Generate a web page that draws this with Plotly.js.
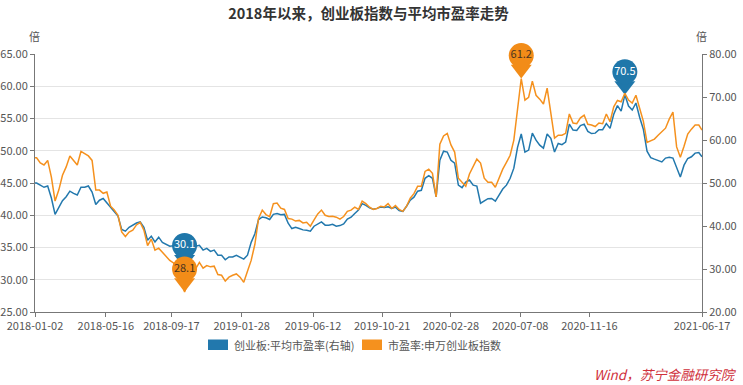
<!DOCTYPE html>
<html><head><meta charset="utf-8">
<script src="https://cdn.plot.ly/plotly-3.0.1.min.js"></script>
<style>html,body{margin:0;padding:0;background:#fff}#chart{width:743px;height:385px}</style>
</head><body><div id="chart"></div>
<script>
const dates = ['2018-01-02',
'2018-01-05','2018-01-12','2018-01-19','2018-01-26','2018-02-02','2018-02-09','2018-02-16','2018-02-23',
'2018-03-02','2018-03-09','2018-03-16','2018-03-23','2018-03-30','2018-04-06','2018-04-13','2018-04-20','2018-04-27',
'2018-05-04','2018-05-11','2018-05-18','2018-05-25','2018-06-01','2018-06-08','2018-06-15','2018-06-22','2018-06-29',
'2018-07-06','2018-07-13','2018-07-20','2018-07-27','2018-08-03','2018-08-10','2018-08-17','2018-08-24','2018-08-31',
'2018-09-07','2018-09-14','2018-09-21','2018-09-28','2018-10-05','2018-10-12','2018-10-19','2018-10-26',
'2018-11-02','2018-11-09','2018-11-16','2018-11-23','2018-11-30','2018-12-07','2018-12-14','2018-12-21','2018-12-28',
'2019-01-04','2019-01-11','2019-01-18','2019-01-25','2019-02-01','2019-02-08','2019-02-15','2019-02-22',
'2019-03-01','2019-03-08','2019-03-15','2019-03-22','2019-03-29','2019-04-05','2019-04-12','2019-04-19','2019-04-26',
'2019-05-03','2019-05-10','2019-05-17','2019-05-24','2019-05-31','2019-06-07','2019-06-14','2019-06-21','2019-06-28',
'2019-07-05','2019-07-12','2019-07-19','2019-07-26','2019-08-02','2019-08-09','2019-08-16','2019-08-23','2019-08-30',
'2019-09-06','2019-09-13','2019-09-20','2019-09-27','2019-10-04','2019-10-11','2019-10-18','2019-10-25',
'2019-11-01','2019-11-08','2019-11-15','2019-11-22','2019-11-29','2019-12-06','2019-12-13','2019-12-20','2019-12-27',
'2020-01-03','2020-01-10','2020-01-17','2020-01-24','2020-01-31','2020-02-07','2020-02-14','2020-02-21','2020-02-28',
'2020-03-06','2020-03-13','2020-03-20','2020-03-27','2020-04-03','2020-04-10','2020-04-17','2020-04-24',
'2020-05-01','2020-05-08','2020-05-15','2020-05-22','2020-05-29','2020-06-05','2020-06-12','2020-06-19','2020-06-26',
'2020-07-03','2020-07-10','2020-07-17','2020-07-24','2020-07-31','2020-08-07','2020-08-14','2020-08-21','2020-08-28',
'2020-09-04','2020-09-11','2020-09-18','2020-09-25','2020-10-02','2020-10-09','2020-10-16','2020-10-23','2020-10-30',
'2020-11-06','2020-11-13','2020-11-20','2020-11-27','2020-12-04','2020-12-11','2020-12-18','2020-12-25',
'2021-01-01','2021-01-08','2021-01-15','2021-01-22','2021-01-29','2021-02-05','2021-02-12','2021-02-19','2021-02-26',
'2021-03-05','2021-03-12','2021-03-19','2021-03-26','2021-04-02','2021-04-09','2021-04-16','2021-04-23','2021-04-30',
'2021-05-07','2021-05-14','2021-05-21','2021-05-28','2021-06-04','2021-06-11','2021-06-17'];

// 创业板:平均市盈率 (right axis)
const peAvg = [50.0,
50.0,49.5,49.0,49.3,46.5,42.7,44.4,45.9,46.8,48.1,47.6,47.2,49.0,49.0,49.3,47.9,45.0,46.0,46.4,45.4,
44.3,43.4,42.3,39.2,38.8,39.7,40.2,40.7,40.95,39.7,36.7,37.6,36.3,37.4,36.2,35.8,35.3,35.4,34.4,33.2,
30.1,33.0,34.4,35.3,35.5,34.4,34.8,34.1,34.4,33.2,33.2,32.15,32.8,32.8,33.2,32.8,32.3,33.2,36.2,38.2,
41.5,42.1,41.9,41.5,42.7,42.9,42.6,42.7,40.65,39.4,39.7,39.4,39.1,39.0,38.8,39.95,40.5,40.95,40.2,40.2,
40.4,39.95,40.1,40.5,41.6,42.05,42.9,43.7,45.2,44.8,44.2,43.9,44.1,44.4,44.3,44.45,44.1,44.4,43.6,43.4,
44.6,46.0,46.7,48.1,48.3,51.1,51.7,51.1,46.8,55.3,57.4,57.2,55.3,54.6,49.5,48.9,50.2,50.7,49.5,49.3,
45.3,45.8,46.35,46.4,45.8,47.2,48.6,49.5,51.1,53.45,58.3,61.4,57.2,57.65,61.6,59.97,58.8,58.1,61.4,60.4,
57.2,59.2,58.9,59.5,63.7,62.3,62.2,63.35,63.7,62.0,61.5,61.6,62.4,62.4,63.8,62.7,66.0,68.0,66.7,70.5,
67.9,66.96,68.6,65.3,62.5,57.4,55.9,55.55,55.3,54.9,55.8,56.0,55.8,53.4,51.4,54.15,55.7,56.1,56.95,57.1,
56.1];

// 市盈率:申万创业板指数 (left axis)
const peIndex = [48.9,
48.9,48.1,47.8,48.5,45.9,42.2,43.9,46.2,47.5,49.2,48.5,47.8,49.9,49.5,49.2,48.5,43.9,43.9,43.4,43.6,
41.4,40.8,40.0,37.4,36.7,37.4,37.7,38.5,38.9,37.7,35.3,36.3,34.6,34.9,34.3,33.6,33.0,32.6,31.5,30.2,
28.1,29.6,30.7,31.8,32.7,31.8,32.2,32.0,32.1,30.8,30.7,29.8,30.4,30.7,30.9,30.4,29.6,31.3,33.0,35.5,
39.5,40.8,40.1,39.8,41.8,41.9,41.1,40.9,39.5,39.4,39.1,39.2,38.8,38.9,38.3,39.3,40.2,40.8,40.0,39.8,
39.85,39.7,39.4,39.8,40.6,40.8,41.25,40.9,42.2,41.8,41.25,40.9,41.05,41.4,41.3,41.8,41.05,41.5,40.9,40.6,
41.4,42.65,43.35,44.5,44.5,46.8,47.15,46.5,42.85,51.0,52.3,52.7,50.9,49.8,45.75,45.1,44.5,46.4,47.6,48.7,
48.1,45.75,45.1,45.1,44.35,45.9,47.15,48.2,49.3,51.65,56.6,61.2,57.85,58.3,60.8,58.6,58.0,57.25,59.7,55.8,
51.96,52.4,52.4,52.7,55.7,54.3,54.2,55.1,55.5,54.1,54.0,53.75,54.3,54.2,55.7,54.5,56.8,57.8,57.6,58.9,
57.85,57.4,58.6,56.6,54.6,51.3,51.5,51.8,52.4,52.9,53.5,54.9,56.0,50.6,49.0,50.7,52.6,53.35,53.98,53.98,
53.2];

const tickDates = ['2018-01-02','2018-05-16','2018-09-17','2019-01-28','2019-06-12','2019-10-21','2020-02-28','2020-07-08','2020-11-16','2021-06-17'];
const seriesNames = ['创业板:平均市盈率(右轴)','市盈率:申万创业板指数'];
const titleText = '2018年以来，创业板指数与平均市盈率走势';
const sourceText = 'Wind，苏宁金融研究院';

const BLUE = '#2278ad', ORANGE = '#f5911e';
const PIN_BLUE = '#1f77aa', PIN_ORANGE = '#f28c18';
const FONT = '"Noto Sans CJK SC", "Microsoft YaHei", sans-serif';

// plot geometry (pixels)
const plotL = 35, plotW = 667, plotB = 312, plotH = 258;
const leftRange = [25, 65], rightRange = [20, 80];
const perPxLeft = (leftRange[1] - leftRange[0]) / plotH, perPxRight = (rightRange[1] - rightRange[0]) / plotH;

// 'y' = right axis (blue, drawn first), 'y2' = left axis (orange, overlaying -> drawn on top)
const traces = [
  {x: dates, y: peAvg, yaxis: 'y', type: 'scatter', mode: 'lines', name: seriesNames[0],
   line: {color: BLUE, width: 1.5}, showlegend: false, hoverinfo: 'skip'},
  {x: dates, y: peIndex, yaxis: 'y2', type: 'scatter', mode: 'lines', name: seriesNames[1],
   line: {color: ORANGE, width: 1.5}, showlegend: false, hoverinfo: 'skip'}
];

function extremes(arr) {
  const mx = Math.max(...arr), mn = Math.min(...arr);
  return [{i: arr.indexOf(mx), v: mx}, {i: arr.indexOf(mn), v: mn}];
}
function addPins(arr, yaxis, perPx, color, txtColor) {
  const ex = extremes(arr);
  const xs = ex.map(e => dates[e.i]);
  traces.push({x: xs, y: ex.map(e => e.v + 9.1 * perPx), yaxis: yaxis, type: 'scatter', mode: 'markers',
    marker: {symbol: 'triangle-down', size: 18.2, color: color, line: {width: 0}},
    cliponaxis: false, showlegend: false, hoverinfo: 'skip'});
  traces.push({x: xs, y: ex.map(e => e.v + 23 * perPx), yaxis: yaxis, type: 'scatter', mode: 'markers+text',
    marker: {symbol: 'circle', size: 25, color: color, line: {width: 0}},
    text: ex.map(e => e.v.toFixed(1)), textposition: 'middle center',
    textfont: {family: FONT, size: 11, color: txtColor},
    cliponaxis: false, showlegend: false, hoverinfo: 'skip'});
}
addPins(peAvg, 'y', perPxRight, PIN_BLUE, '#ffffff');
addPins(peIndex, 'y2', perPxLeft, PIN_ORANGE, '#4a3420');

const shapes = [], annotations = [];
const px = v => (v - plotL) / plotW, py = v => (plotB - v) / plotH;
// legend (manual, square patches)
shapes.push({type: 'rect', xref: 'paper', yref: 'paper', x0: px(208), x1: px(228), y0: py(350), y1: py(339.5), fillcolor: BLUE, line: {width: 0}});
shapes.push({type: 'rect', xref: 'paper', yref: 'paper', x0: px(362), x1: px(382), y0: py(350), y1: py(339.5), fillcolor: ORANGE, line: {width: 0}});
annotations.push({xref: 'paper', yref: 'paper', x: px(232), y: py(344.5), xanchor: 'left', yanchor: 'middle',
  text: seriesNames[0], showarrow: false, font: {family: FONT, size: 11, color: '#555'}});
annotations.push({xref: 'paper', yref: 'paper', x: px(386), y: py(344.5), xanchor: 'left', yanchor: 'middle',
  text: seriesNames[1], showarrow: false, font: {family: FONT, size: 11, color: '#555'}});
// units
annotations.push({xref: 'paper', yref: 'paper', x: px(34.5), y: py(36), xanchor: 'center', yanchor: 'middle',
  text: '倍', showarrow: false, font: {family: FONT, size: 11, color: '#555'}});
annotations.push({xref: 'paper', yref: 'paper', x: px(701), y: py(36), xanchor: 'center', yanchor: 'middle',
  text: '倍', showarrow: false, font: {family: FONT, size: 11, color: '#555'}});
// source
annotations.push({xref: 'paper', yref: 'paper', x: px(739), y: py(374), xanchor: 'right', yanchor: 'middle',
  text: '<i>' + sourceText + '</i>', showarrow: false, font: {family: FONT, size: 13.5, color: '#d0313c'}});

const axisCommon = {showline: true, linecolor: '#777', linewidth: 1, ticks: 'outside', ticklen: 4,
  tickcolor: '#777', tickfont: {family: FONT, size: 11, color: '#555'}, zeroline: false, fixedrange: true};

const layout = {
  width: 743, height: 385,
  margin: {l: plotL, r: 743 - plotL - plotW, t: plotB - plotH, b: 385 - plotB, pad: 0},
  paper_bgcolor: '#fff', plot_bgcolor: '#fff',
  font: {family: FONT, color: '#555'},
  title: {text: '<b>' + titleText + '</b>', xref: 'container', yref: 'container', x: 0.496, y: 0.965,
    xanchor: 'center', yanchor: 'middle', font: {family: FONT, size: 14.5, color: '#333'}},
  xaxis: Object.assign({}, axisCommon, {type: 'date', range: [dates[0], dates[dates.length - 1]],
    tickmode: 'array', tickvals: tickDates, ticktext: tickDates, showgrid: false}),
  yaxis: Object.assign({}, axisCommon, {range: rightRange, dtick: 10, tick0: 20, tickformat: '.2f',
    side: 'right', showgrid: false}),
  yaxis2: Object.assign({}, axisCommon, {range: leftRange, dtick: 5, tick0: 25, tickformat: '.2f',
    side: 'left', overlaying: 'y', showgrid: true, gridcolor: '#e4e4e4', gridwidth: 1}),
  shapes: shapes, annotations: annotations,
  showlegend: false, hovermode: false
};

Plotly.newPlot('chart', traces, layout, {staticPlot: true, displayModeBar: false});
</script>
</body></html>
